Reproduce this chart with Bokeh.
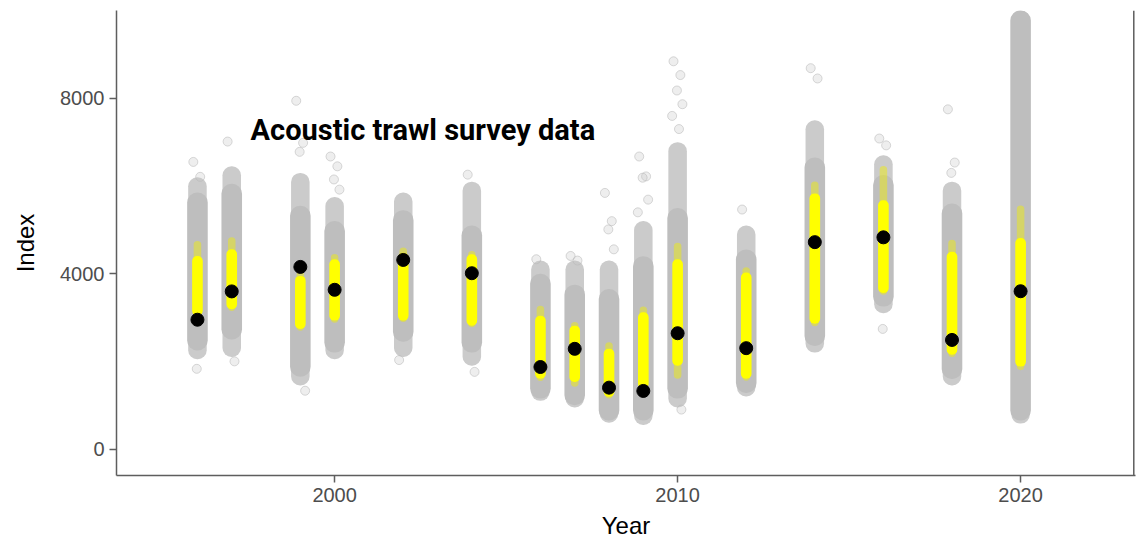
from bokeh.plotting import figure
from bokeh.models import Range1d, FixedTicker, Span, Label, ColumnDataSource
from bokeh.embed import file_html
from bokeh.resources import INLINE

# ---------------- data ----------------
years = [1996, 1997, 1999, 2000, 2002, 2004, 2006, 2007, 2008, 2009, 2010, 2012, 2014, 2016, 2018, 2020]
observed = [2950, 3596, 4155, 3633, 4314, 4011, 1871, 2286, 1400, 1325, 2642, 2301, 4720, 4830, 2489, 3600]

# grey posterior cloud: dense core and sparse tails
grey_core_lo = [2250, 2500, 1650, 2200, 2450, 2200, 1150, 1000, 650, 650, 1150, 1280, 2350, 3250, 1600, 650]
grey_core_hi = [5850, 6050, 5550, 5200, 5450, 5100, 4000, 3750, 3650, 4400, 5500, 4550, 6650, 6250, 5600, 10600]
grey_tail_lo = [2050, 2100, 1450, 2050, 2100, 1900, 1100, 950, 600, 550, 950, 1200, 2200, 3100, 1450, 580]
grey_tail_hi = [6200, 6450, 6300, 5750, 5850, 6100, 4300, 4300, 4300, 5200, 7000, 5100, 7500, 6700, 6100, 10600]

# yellow central interval
yellow_lo = [3040, 3190, 2740, 2930, 2930, 2815, 1605, 1530, 1190, 1380, 1900, 1605, 2857, 3562, 2153, 1880]
yellow_hi = [4405, 4556, 3950, 4330, 4480, 4443, 3042, 2815, 2286, 3118, 4330, 4027, 5832, 5675, 4501, 4814]
yellow_tail_lo = [2980, 3150, 2700, 2880, 2900, 2780, 1550, 1420, 1150, 1340, 1605, 1560, 2800, 3520, 2100, 1800]
yellow_tail_hi = [4745, 4830, 4050, 4450, 4600, 4520, 3269, 2900, 2438, 3250, 4708, 4150, 6106, 6458, 4775, 5558]

# isolated grey points far from the clouds
outlier_years = [1996, 1996, 1996, 1997, 1997, 1999, 1999, 1999, 1999,
                 2000, 2000, 2000, 2000, 2002, 2004, 2004, 2006, 2007, 2007,
                 2008, 2008, 2008, 2008, 2009, 2009, 2009, 2009, 2009,
                 2010, 2010, 2010, 2010, 2010, 2010, 2010,
                 2012, 2014, 2014, 2016, 2016, 2016, 2018, 2018, 2018]
outlier_values = [6550, 6210, 1830, 7015, 2000, 7945, 6985, 6780, 1330,
                  6674, 6450, 6150, 5918, 2030, 6260, 1760, 4330, 4405, 4300,
                  5843, 5199, 5010, 4556, 6674, 6220, 6190, 5690, 5400,
                  8846, 8532, 8180, 7867, 7600, 7300, 900,
                  5464, 8689, 8454, 7084, 6928, 2740, 7750, 6536, 6300]

title_text = "Acoustic trawl survey data"
x_ticks = [2000, 2010, 2020]
y_ticks = [0, 4000, 8000]

# ---------------- figure ----------------
AX = "#5e5e5e"
p = figure(width=1139, height=541, output_backend="svg", toolbar_location=None,
           x_range=Range1d(1993.64, 2023.35), y_range=Range1d(-604, 10005),
           min_border_left=116, min_border_top=10, min_border_bottom=64, min_border_right=4)
p.outline_line_color = None
p.grid.visible = False
p.background_fill_color = "white"

src = ColumnDataSource(dict(year=years, obs=observed, gcl=grey_core_lo, gch=grey_core_hi,
                            gtl=grey_tail_lo, gth=grey_tail_hi, yl=yellow_lo, yh=yellow_hi,
                            ytl=yellow_tail_lo, yth=yellow_tail_hi))

p.vbar(x="year", bottom="gtl", top="gth", width=0.54, source=src, fill_color="#cbcbcb",
       line_color=None, border_radius=9)
p.vbar(x="year", bottom="gcl", top="gch", width=0.6, source=src, fill_color="#bebebe",
       line_color=None, border_radius=10)

offs = [-0.12, 0.08, -0.02, 0.14, -0.16, 0.04, 0.11, -0.07]
cnt = {}
ox = []
for yv in outlier_years:
    k = cnt.get(yv, 0)
    cnt[yv] = k + 1
    ox.append(yv + offs[k % len(offs)])
p.scatter(ox, outlier_values, size=9, fill_color="#c8c8c8", fill_alpha=0.3,
          line_color="#b8b8b8", line_alpha=0.55, line_width=1)

p.vbar(x="year", bottom="ytl", top="yth", width=0.22, source=src, fill_color="#f2f000",
       fill_alpha=0.45, line_color=None, border_radius=4)
p.vbar(x="year", bottom="yl", top="yh", width=0.31, source=src, fill_color="#ffff00",
       line_color=None, border_radius=5)

p.scatter(x="year", y="obs", source=src, size=13, fill_color="black", line_color="black")

p.add_layout(Span(location=2023.3, dimension="height", line_color=AX, line_width=1.5))
p.add_layout(Label(x=1997.55, y=7280, text=title_text, text_font="Roboto",
                   text_font_style="bold", text_font_size="29px", text_color="black",
                   text_baseline="alphabetic", text_align="left"))

for ax in (p.xaxis[0], p.yaxis[0]):
    ax.axis_line_color = AX
    ax.axis_line_width = 1.5
    ax.major_tick_line_color = AX
    ax.major_tick_line_width = 1.5
    ax.major_tick_out = 7
    ax.major_tick_in = 0
    ax.minor_tick_line_color = None
    ax.major_label_text_font = "Liberation Sans"
    ax.major_label_text_font_size = "20px"
    ax.major_label_text_color = "#4d4d4d"
    ax.axis_label_text_font = "Liberation Sans"
    ax.axis_label_text_font_size = "24px"
    ax.axis_label_text_font_style = "normal"
    ax.axis_label_text_color = "black"

p.xaxis.ticker = FixedTicker(ticks=x_ticks)
p.yaxis.ticker = FixedTicker(ticks=y_ticks)
p.xaxis.axis_label = "Year"
p.yaxis.axis_label = "Index"
p.xaxis.major_label_standoff = 5
p.xaxis.axis_label_standoff = 7
p.yaxis.major_label_standoff = 5
p.yaxis.axis_label_standoff = 18

open("out.html", "w").write(file_html(p, INLINE))
